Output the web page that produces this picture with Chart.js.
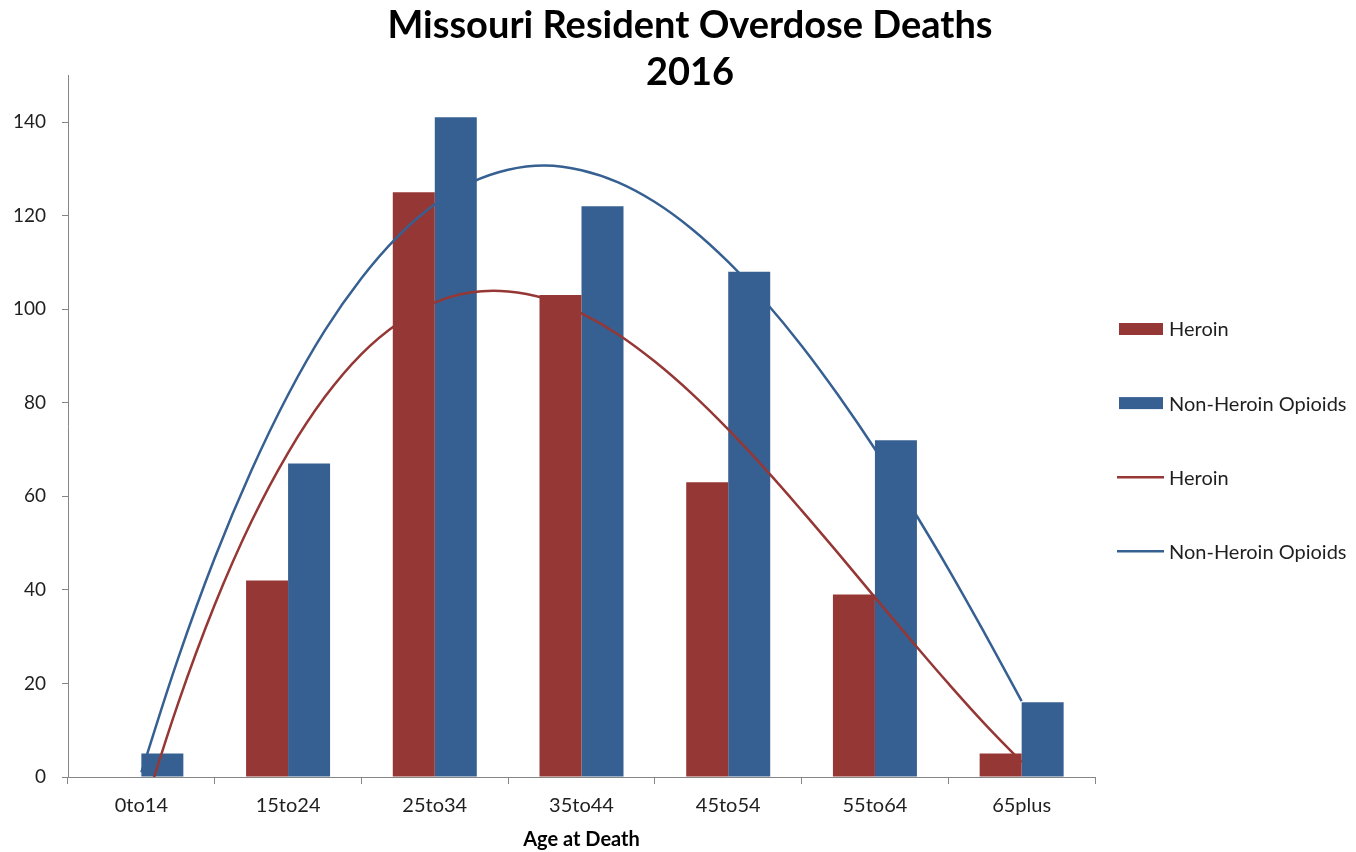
<!DOCTYPE html>
<html>
<head>
<meta charset="utf-8">
<script src="https://cdn.jsdelivr.net/npm/chart.js@4.4.1/dist/chart.umd.min.js"></script>
<style>
html,body{margin:0;padding:0;background:#ffffff;}
#wrap{position:relative;width:1356px;height:852px;}
</style>
</head>
<body>
<div id="wrap"><canvas id="c" width="1356" height="852"></canvas></div>
<script>
// ---- data ----
const categories = ['0to14', '15to24', '25to34', '35to44', '45to54', '55to64', '65plus'];
const heroin = [0, 42, 125, 103, 63, 39, 5];
const nonHeroin = [5, 67, 141, 122, 108, 72, 16];
// trend curves, read at quarter-category positions
const trendX = [0, 0.25, 0.5, 0.75, 1, 1.25, 1.5, 1.75, 2, 2.25, 2.5, 2.75, 3, 3.25, 3.5, 3.75, 4, 4.25, 4.5, 4.75, 5, 5.25, 5.5, 5.75, 6];
const heroinTrend = [-8.7, 15.7, 36.8, 54.6, 69.3, 81.2, 90.4, 97.0, 101.4, 103.6, 103.8, 102.3, 99.1, 94.6, 88.8, 82.0, 74.3, 65.9, 57.0, 47.8, 38.4, 29.1, 20.0, 11.3, 3.2];
const nonHeroinTrend = [1.0, 25.3, 46.8, 65.5, 81.7, 95.4, 106.6, 115.6, 122.4, 127.1, 129.8, 130.7, 129.7, 127.1, 122.9, 117.2, 110.1, 101.7, 92.2, 81.6, 70.1, 57.6, 44.5, 30.6, 16.2];
const yTicks = [0, 20, 40, 60, 80, 100, 120, 140];
const titleLines = ['Missouri Resident Overdose Deaths', '2016'];
const xAxisTitle = 'Age at Death';
const seriesNames = ['Heroin', 'Non-Heroin Opioids'];

// ---- styles ----
const RED = '#953735';
const BLUE = '#376092';
const AXIS = '#868686';
const TEXT = '#1f1f1f';
const FONT = 'Lato';
const BAR_PX = 42;                 // bar width in pixels
const SHIFT = 21 / 146.7;          // half a bar, in category units (visual offset of the pair)

const toPoints = (xs, ys) => xs.map((x, i) => ({x: x, y: ys[i]}));
const idx = categories.map((c, i) => i);

const sideLegend = {
  id: 'sideLegend',
  afterDraw(chart) {
    const o = chart.options.plugins.sideLegend;
    const ctx = chart.ctx;
    ctx.save();
    ctx.font = o.fontSize + 'px ' + FONT;
    ctx.textBaseline = 'middle';
    ctx.textAlign = 'left';
    chart.data.datasets.forEach((ds, k) => {
      const cy = o.top + k * o.step;
      if (ds.type === 'line') {
        ctx.strokeStyle = ds.borderColor;
        ctx.lineWidth = ds.borderWidth;
        ctx.beginPath();
        ctx.moveTo(o.x, cy);
        ctx.lineTo(o.x + o.lineLen, cy);
        ctx.stroke();
      } else {
        ctx.fillStyle = ds.backgroundColor;
        ctx.fillRect(o.x + 2, cy - o.boxH / 2, o.boxW, o.boxH);
      }
      ctx.fillStyle = o.color;
      ctx.fillText(ds.label, o.textX, cy + 1);
    });
    ctx.restore();
  }
};

const hiddenIndexAxis = (shift) => ({
  type: 'linear', display: false, offset: false, position: 'bottom',
  min: -0.5 + shift, max: 6.5 + shift
});

new Chart(document.getElementById('c'), {
  type: 'line',
  data: {
    labels: categories,
    datasets: [
      {type: 'bar', label: seriesNames[0], data: toPoints(idx, heroin), backgroundColor: RED, order: 1, xAxisID: 'xH', yAxisID: 'y', grouped: false, barThickness: BAR_PX, inflateAmount: 0},
      {type: 'bar', label: seriesNames[1], data: toPoints(idx, nonHeroin), backgroundColor: BLUE, order: 1, xAxisID: 'xN', yAxisID: 'y', grouped: false, barThickness: BAR_PX, inflateAmount: 0},
      {type: 'line', label: seriesNames[0], data: toPoints(trendX, heroinTrend), borderColor: RED, borderWidth: 2.5, pointRadius: 0, tension: 0.4, fill: false, order: 0, xAxisID: 'x2', yAxisID: 'y'},
      {type: 'line', label: seriesNames[1], data: toPoints(trendX, nonHeroinTrend), borderColor: BLUE, borderWidth: 2.5, pointRadius: 0, tension: 0.4, fill: false, order: 0, xAxisID: 'x2', yAxisID: 'y'}
    ]
  },
  options: {
    responsive: false,
    devicePixelRatio: 1,
    animation: false,
    layout: {padding: {left: 0, right: -24, top: 0, bottom: 0}},
    plugins: {
      legend: {display: false},
      tooltip: {enabled: false},
      title: {
        display: true,
        text: titleLines,
        color: '#000000',
        font: {family: FONT, size: 38, weight: 'bold', lineHeight: 1.24},
        padding: {top: 2, bottom: -21}
      },
      sideLegend: {x: 1117, top: 329, step: 74.1, lineLen: 47, boxW: 44, boxH: 12, textX: 1169, fontSize: 20, color: TEXT}
    },
    scales: {
      x: {
        type: 'category',
        labels: categories,
        offset: true,
        grid: {display: true, drawOnChartArea: false, drawTicks: true, tickLength: 7, color: AXIS, offset: true},
        border: {display: true, color: AXIS, width: 1},
        ticks: {color: TEXT, font: {family: FONT, size: 20}, padding: 10, maxRotation: 0, autoSkip: false},
        title: {display: true, text: xAxisTitle, color: '#000000', font: {family: FONT, size: 20, weight: 'bold'}, padding: {top: 0, bottom: 0}}
      },
      xH: hiddenIndexAxis(SHIFT),
      xN: hiddenIndexAxis(-SHIFT),
      x2: hiddenIndexAxis(0),
      y: {
        type: 'linear',
        position: 'left',
        min: 0,
        max: 150,
        afterFit: (s) => { s.width = 68; },
        afterBuildTicks: (s) => { s.ticks = yTicks.map(v => ({value: v})); },
        grid: {display: true, drawOnChartArea: false, drawTicks: true, tickLength: 6, color: AXIS},
        border: {display: true, color: AXIS, width: 1},
        ticks: {color: TEXT, font: {family: FONT, size: 19}, padding: 16}
      },
      legendSpace: {
        type: 'linear',
        position: 'right',
        display: true,
        afterFit: (s) => { s.width = 285; },
        grid: {display: false, drawTicks: false},
        border: {display: false},
        ticks: {display: false}
      }
    }
  },
  plugins: [sideLegend]
});
</script>
</body>
</html>
